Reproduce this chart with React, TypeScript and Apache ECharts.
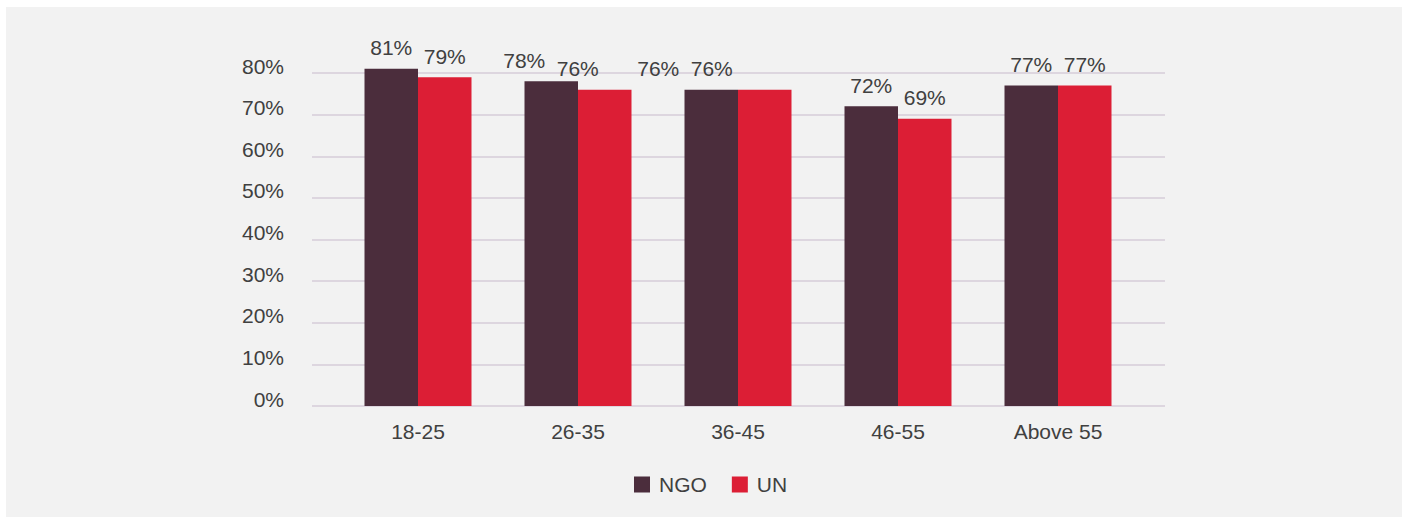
import React, { useEffect, useRef } from "react";
import * as echarts from "echarts";

const categories = ["18-25", "26-35", "36-45", "46-55", "Above 55"];
const ngoValues = [81, 78, 76, 72, 77];
const unValues = [79, 76, 76, 69, 77];
const seriesNames = ["NGO", "UN"];

const FONT = "'Liberation Sans', Arial, sans-serif";
const TEXT = "#404040";

export default function App() {
  const ref = useRef<HTMLDivElement>(null);
  useEffect(() => {
    if (!ref.current) return;
    const chart = echarts.init(ref.current, undefined, { renderer: "svg" });
    // horizontal nudges of the value labels as they appear in the original
    const labelNudge = [0, -27, -53, 0, 0];
    const labelCfg = {
      show: true,
      position: "top",
      distance: 10.5,
      color: TEXT,
      fontSize: 21,
      fontFamily: FONT,
      formatter: (p: any) => p.value + "%",
    };
    const withNudge = (vals: number[]) =>
      vals.map((v, i) => ({ value: v, label: { offset: [labelNudge[i], 0] } }));
    chart.setOption({
      animation: false,
      textStyle: { fontFamily: FONT },
      grid: [
        { left: 312, right: 241, top: 73, bottom: 111 },
        { left: 338, right: 268, top: 73, bottom: 111 },
      ],
      legend: {
        data: seriesNames,
        bottom: 17,
        left: 629,
        itemWidth: 16,
        itemHeight: 16,
        itemGap: 25,
        icon: "rect",
        textStyle: {
          color: TEXT,
          fontSize: 21,
          fontFamily: FONT,
          padding: [0, 0, 0, 4],
        },
      },
      xAxis: [
        { type: "value", gridIndex: 0, show: false, min: 0, max: 1 },
        {
          type: "category",
          gridIndex: 1,
          data: categories,
          axisLine: { show: false },
          axisTick: { show: false },
          axisLabel: { color: TEXT, fontSize: 21, fontFamily: FONT, margin: 15 },
        },
      ],
      yAxis: [
        {
          type: "value",
          gridIndex: 0,
          min: 0,
          max: 80,
          interval: 10,
          axisLine: { show: false },
          axisTick: { show: false },
          axisLabel: {
            formatter: "{v|{value}%}",
            margin: 28,
            rich: {
              v: {
                color: TEXT,
                fontSize: 21,
                fontFamily: FONT,
                padding: [0, 0, 14, 0],
              },
            },
          },
          splitLine: { lineStyle: { color: "#ddd6df", width: 2 } },
        },
        {
          type: "value",
          gridIndex: 1,
          min: 0,
          max: 80,
          interval: 10,
          show: false,
          splitLine: { show: false },
        },
      ],
      series: [
        {
          name: seriesNames[0],
          type: "bar",
          xAxisIndex: 1,
          yAxisIndex: 1,
          data: withNudge(ngoValues),
          barWidth: 53.5,
          barGap: "0%",
          clip: false,
          itemStyle: { color: "#4b2d3c" },
          label: labelCfg,
        },
        {
          name: seriesNames[1],
          type: "bar",
          xAxisIndex: 1,
          yAxisIndex: 1,
          data: withNudge(unValues),
          barWidth: 53.5,
          barGap: "0%",
          clip: false,
          itemStyle: { color: "#dc1e35" },
          label: labelCfg,
        },
      ],
    });
    return () => chart.dispose();
  }, []);
  return (
    <div
      style={{
        position: "fixed",
        left: 0,
        top: 0,
        width: 1406,
        height: 517,
        background: "#ffffff",
      }}
    >
      <div
        style={{
          position: "absolute",
          left: 6,
          top: 7,
          width: 1396,
          height: 510,
          background: "#f2f2f2",
        }}
      />
      <div
        ref={ref}
        style={{ position: "absolute", left: 0, top: 0, width: 1406, height: 517 }}
      />
    </div>
  );
}
